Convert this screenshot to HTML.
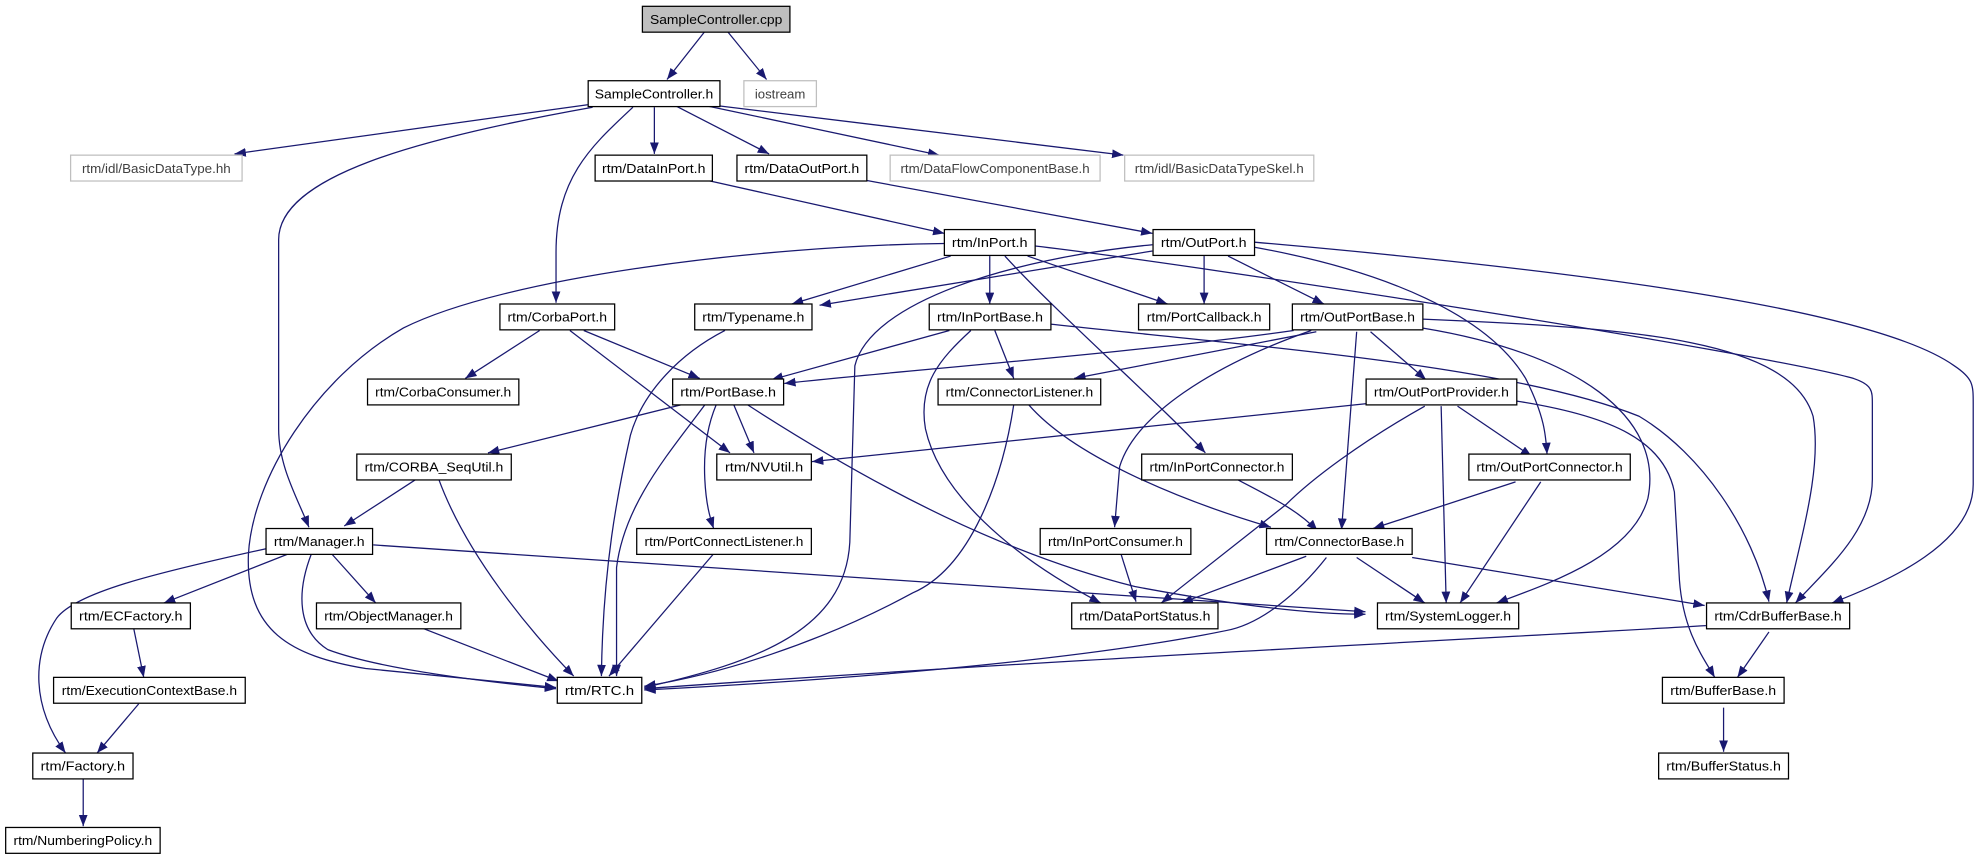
<!DOCTYPE html>
<html><head><meta charset="utf-8"><style>
html,body{margin:0;padding:0;background:#fff;}
svg{display:block;}
text{font-family:"Liberation Sans",sans-serif;font-size:10.5px;}
</style></head><body>
<svg width="1977" height="859" viewBox="0 0 1568 681" preserveAspectRatio="none" xmlns="http://www.w3.org/2000/svg">
<defs>
<marker id="a" markerUnits="userSpaceOnUse" markerWidth="10" markerHeight="8" refX="9" refY="3.5" orient="auto">
<path d="M0,0 L9,3.5 L0,7 z" fill="#191970"/>
</marker>
</defs>
<g fill="none" stroke="#191970" stroke-width="1" marker-end="url(#a)">
<path d="M559,25 L529,63"/>
<path d="M577,25 L608,63"/>
<path d="M466,83 L186,122"/>
<path d="M470,85 C330,110 221,140 221,190 L221,340 C221,370 236,395 245,418"/>
<path d="M502,85 C470,115 441,140 441,200 L441,240"/>
<path d="M519,85 L519,122"/>
<path d="M536,84 L610,122"/>
<path d="M561,84 L745,123"/>
<path d="M571,84 L891,123"/>
<path d="M561,143 L749,185"/>
<path d="M687,143 L914,185"/>
<path d="M749,193 C600,195 400,220 320,260 C250,300 200,380 197,440 C195,500 230,520 290,530 L441,545"/>
<path d="M754,203 L628,241"/>
<path d="M785,203 L785,241"/>
<path d="M815,203 L926,241"/>
<path d="M797,203 C840,250 920,320 956,359"/>
<path d="M821,195 C950,210 1400,280 1470,300 C1485,305 1485,310 1485,320 L1485,380 C1485,420 1450,450 1424,478"/>
<path d="M995,192 C1200,210 1480,240 1550,290 C1565,300 1565,305 1565,320 L1565,384 C1565,430 1500,460 1453,478"/>
<path d="M1128,253 C1300,260 1420,270 1438,330 C1445,370 1430,420 1417,478"/>
<path d="M833,257 C1000,275 1200,290 1300,330 C1350,360 1390,420 1403,477"/>
<path d="M1120,442 L1352,480"/>
<path d="M1203,318 C1280,330 1320,350 1328,390 L1332,460 C1335,500 1350,520 1360,537"/>
<path d="M1403,501 L1378,537"/>
<path d="M1367,561 L1367,596"/>
<path d="M995,196 C1100,215 1180,250 1210,300 C1225,330 1226,345 1227,360"/>
<path d="M974,203 L1050,241"/>
<path d="M914,199 L650,242"/>
<path d="M914,194 C800,205 690,240 678,290 L674,430 C670,500 600,525 511,545"/>
<path d="M955,203 L955,241"/>
<path d="M1026,262 C900,280 700,295 622,304"/>
<path d="M1044,263 L852,300"/>
<path d="M1040,262 C960,290 900,330 888,370 L884,418"/>
<path d="M1087,263 L1131,301"/>
<path d="M1076,263 L1064,420"/>
<path d="M1128,260 C1250,280 1320,330 1307,395 C1295,440 1230,462 1187,478"/>
<path d="M753,262 L612,301"/>
<path d="M789,262 L804,300"/>
<path d="M770,262 C745,285 728,305 734,340 C745,390 800,440 873,478"/>
<path d="M540,321 L387,359"/>
<path d="M582,321 L598,359"/>
<path d="M452,262 L579,359"/>
<path d="M568,321 C560,340 558,360 559,380 C560,400 563,410 566,419"/>
<path d="M559,321 C530,360 495,400 489,450 L489,536"/>
<path d="M593,321 C700,390 800,440 900,465 C980,480 1040,487 1083,487"/>
<path d="M296,432 L1083,485"/>
<path d="M428,262 L369,300"/>
<path d="M463,262 L555,300"/>
<path d="M575,262 C540,280 510,310 500,345 C490,390 478,450 477,536"/>
<path d="M348,380 C370,440 420,500 455,536"/>
<path d="M335,498 L443,540"/>
<path d="M566,439 L483,536"/>
<path d="M247,439 C235,470 236,500 260,515 C300,530 380,540 441,546"/>
<path d="M1353,496 C1200,505 800,525 511,546"/>
<path d="M1052,442 C1030,470 1000,495 972,500 C850,525 650,540 511,547"/>
<path d="M804,321 C795,380 770,450 724,470 C650,510 570,535 511,544"/>
<path d="M816,321 C850,360 930,395 1008,418"/>
<path d="M981,380 C1010,395 1030,405 1045,421"/>
<path d="M1202,382 L1089,419"/>
<path d="M1222,382 L1158,478"/>
<path d="M1156,322 L1215,362"/>
<path d="M1143,322 L1147,478"/>
<path d="M1084,320 L644,366"/>
<path d="M1130,322 C1080,350 1040,380 1020,400 L921,478"/>
<path d="M1036,441 L937,478"/>
<path d="M1076,442 L1130,478"/>
<path d="M889,439 L901,477"/>
<path d="M330,380 L273,417"/>
<path d="M211,435 C120,455 60,470 45,490 C25,520 25,560 52,597"/>
<path d="M229,439 L130,478"/>
<path d="M263,439 L298,478"/>
<path d="M106,498 L114,537"/>
<path d="M110,558 L77,597"/>
<path d="M66,617 L66,655"/>
</g>
<g stroke-width="1">
<!-- nodes -->
<rect x="509.5" y="5" width="117" height="20.5" fill="#bfbfbf" stroke="#000"/><text x="568" y="19" text-anchor="middle" textLength="105" lengthAdjust="spacingAndGlyphs">SampleController.cpp</text>
<rect x="466.5" y="64" width="104.5" height="20.5" fill="#fff" stroke="#000"/><text x="518.7" y="78" text-anchor="middle" textLength="94" lengthAdjust="spacingAndGlyphs">SampleController.h</text>
<rect x="590" y="64" width="57.5" height="20.5" fill="#fff" stroke="#bfbfbf"/><text x="618.7" y="78" text-anchor="middle" textLength="40" lengthAdjust="spacingAndGlyphs">iostream</text>
<rect x="56" y="123" width="136" height="20.5" fill="#fff" stroke="#bfbfbf"/><text x="124" y="137" text-anchor="middle" textLength="118" lengthAdjust="spacingAndGlyphs">rtm/idl/BasicDataType.hh</text>
<rect x="472" y="123" width="93" height="20.5" fill="#fff" stroke="#000"/><text x="518.5" y="137" text-anchor="middle" textLength="82" lengthAdjust="spacingAndGlyphs">rtm/DataInPort.h</text>
<rect x="584.5" y="123" width="103" height="20.5" fill="#fff" stroke="#000"/><text x="636" y="137" text-anchor="middle" textLength="91" lengthAdjust="spacingAndGlyphs">rtm/DataOutPort.h</text>
<rect x="706" y="123" width="166.5" height="20.5" fill="#fff" stroke="#bfbfbf"/><text x="789.2" y="137" text-anchor="middle" textLength="150" lengthAdjust="spacingAndGlyphs">rtm/DataFlowComponentBase.h</text>
<rect x="892" y="123" width="150" height="20.5" fill="#fff" stroke="#bfbfbf"/><text x="967" y="137" text-anchor="middle" textLength="134" lengthAdjust="spacingAndGlyphs">rtm/idl/BasicDataTypeSkel.h</text>
<rect x="749" y="182" width="72" height="20.5" fill="#fff" stroke="#000"/><text x="785" y="196" text-anchor="middle" textLength="60" lengthAdjust="spacingAndGlyphs">rtm/InPort.h</text>
<rect x="914.5" y="182" width="80.5" height="20.5" fill="#fff" stroke="#000"/><text x="954.7" y="196" text-anchor="middle" textLength="68" lengthAdjust="spacingAndGlyphs">rtm/OutPort.h</text>
<rect x="396.5" y="241" width="91" height="20.5" fill="#fff" stroke="#000"/><text x="442" y="255" text-anchor="middle" textLength="79" lengthAdjust="spacingAndGlyphs">rtm/CorbaPort.h</text>
<rect x="551" y="241" width="93" height="20.5" fill="#fff" stroke="#000"/><text x="597.5" y="255" text-anchor="middle" textLength="81" lengthAdjust="spacingAndGlyphs">rtm/Typename.h</text>
<rect x="737" y="241" width="96.5" height="20.5" fill="#fff" stroke="#000"/><text x="785.2" y="255" text-anchor="middle" textLength="84" lengthAdjust="spacingAndGlyphs">rtm/InPortBase.h</text>
<rect x="903" y="241" width="104" height="20.5" fill="#fff" stroke="#000"/><text x="955" y="255" text-anchor="middle" textLength="91" lengthAdjust="spacingAndGlyphs">rtm/PortCallback.h</text>
<rect x="1025" y="241" width="103.5" height="20.5" fill="#fff" stroke="#000"/><text x="1076.7" y="255" text-anchor="middle" textLength="91" lengthAdjust="spacingAndGlyphs">rtm/OutPortBase.h</text>
<rect x="291.5" y="300.5" width="120" height="20.5" fill="#fff" stroke="#000"/><text x="351.5" y="314.5" text-anchor="middle" textLength="108" lengthAdjust="spacingAndGlyphs">rtm/CorbaConsumer.h</text>
<rect x="533.5" y="300.5" width="88" height="20.5" fill="#fff" stroke="#000"/><text x="577.5" y="314.5" text-anchor="middle" textLength="76" lengthAdjust="spacingAndGlyphs">rtm/PortBase.h</text>
<rect x="744" y="300.5" width="129" height="20.5" fill="#fff" stroke="#000"/><text x="808.5" y="314.5" text-anchor="middle" textLength="117" lengthAdjust="spacingAndGlyphs">rtm/ConnectorListener.h</text>
<rect x="1083.5" y="300.5" width="119.5" height="20.5" fill="#fff" stroke="#000"/><text x="1143.2" y="314.5" text-anchor="middle" textLength="107" lengthAdjust="spacingAndGlyphs">rtm/OutPortProvider.h</text>
<rect x="283" y="360" width="122.5" height="20.5" fill="#fff" stroke="#000"/><text x="344.2" y="374" text-anchor="middle" textLength="110" lengthAdjust="spacingAndGlyphs">rtm/CORBA_SeqUtil.h</text>
<rect x="568.5" y="360" width="75" height="20.5" fill="#fff" stroke="#000"/><text x="606" y="374" text-anchor="middle" textLength="62" lengthAdjust="spacingAndGlyphs">rtm/NVUtil.h</text>
<rect x="905.5" y="360" width="119.5" height="20.5" fill="#fff" stroke="#000"/><text x="965.2" y="374" text-anchor="middle" textLength="107" lengthAdjust="spacingAndGlyphs">rtm/InPortConnector.h</text>
<rect x="1165" y="360" width="128" height="20.5" fill="#fff" stroke="#000"/><text x="1229" y="374" text-anchor="middle" textLength="116" lengthAdjust="spacingAndGlyphs">rtm/OutPortConnector.h</text>
<rect x="211" y="419" width="84.5" height="20.5" fill="#fff" stroke="#000"/><text x="253.2" y="433" text-anchor="middle" textLength="72" lengthAdjust="spacingAndGlyphs">rtm/Manager.h</text>
<rect x="505" y="419" width="138.5" height="20.5" fill="#fff" stroke="#000"/><text x="574.2" y="433" text-anchor="middle" textLength="126" lengthAdjust="spacingAndGlyphs">rtm/PortConnectListener.h</text>
<rect x="825" y="419" width="119.5" height="20.5" fill="#fff" stroke="#000"/><text x="884.7" y="433" text-anchor="middle" textLength="107" lengthAdjust="spacingAndGlyphs">rtm/InPortConsumer.h</text>
<rect x="1004.5" y="419" width="115.5" height="20.5" fill="#fff" stroke="#000"/><text x="1062.2" y="433" text-anchor="middle" textLength="103" lengthAdjust="spacingAndGlyphs">rtm/ConnectorBase.h</text>
<rect x="56.5" y="478" width="94.5" height="20.5" fill="#fff" stroke="#000"/><text x="103.7" y="492" text-anchor="middle" textLength="82" lengthAdjust="spacingAndGlyphs">rtm/ECFactory.h</text>
<rect x="251" y="478" width="114.5" height="20.5" fill="#fff" stroke="#000"/><text x="308.2" y="492" text-anchor="middle" textLength="102" lengthAdjust="spacingAndGlyphs">rtm/ObjectManager.h</text>
<rect x="850" y="478" width="116" height="20.5" fill="#fff" stroke="#000"/><text x="908" y="492" text-anchor="middle" textLength="104" lengthAdjust="spacingAndGlyphs">rtm/DataPortStatus.h</text>
<rect x="1092.5" y="478" width="112" height="20.5" fill="#fff" stroke="#000"/><text x="1148.5" y="492" text-anchor="middle" textLength="100" lengthAdjust="spacingAndGlyphs">rtm/SystemLogger.h</text>
<rect x="1353.5" y="478" width="113.5" height="20.5" fill="#fff" stroke="#000"/><text x="1410.2" y="492" text-anchor="middle" textLength="101" lengthAdjust="spacingAndGlyphs">rtm/CdrBufferBase.h</text>
<rect x="42.5" y="537" width="152" height="20.5" fill="#fff" stroke="#000"/><text x="118.5" y="551" text-anchor="middle" textLength="139" lengthAdjust="spacingAndGlyphs">rtm/ExecutionContextBase.h</text>
<rect x="442" y="537" width="67" height="20.5" fill="#fff" stroke="#000"/><text x="475.5" y="551" text-anchor="middle" textLength="55" lengthAdjust="spacingAndGlyphs">rtm/RTC.h</text>
<rect x="1318.5" y="537" width="96.5" height="20.5" fill="#fff" stroke="#000"/><text x="1366.7" y="551" text-anchor="middle" textLength="84" lengthAdjust="spacingAndGlyphs">rtm/BufferBase.h</text>
<rect x="26" y="597" width="79.5" height="20.5" fill="#fff" stroke="#000"/><text x="65.7" y="611" text-anchor="middle" textLength="67" lengthAdjust="spacingAndGlyphs">rtm/Factory.h</text>
<rect x="1315.5" y="597" width="103" height="20.5" fill="#fff" stroke="#000"/><text x="1367" y="611" text-anchor="middle" textLength="91" lengthAdjust="spacingAndGlyphs">rtm/BufferStatus.h</text>
<rect x="4.5" y="656" width="122.5" height="20.5" fill="#fff" stroke="#000"/><text x="65.7" y="670" text-anchor="middle" textLength="110" lengthAdjust="spacingAndGlyphs">rtm/NumberingPolicy.h</text>
</g>
<g fill="#000"></g>
<style>text{fill:#000}</style>
</svg>
<style>
svg rect[stroke="#bfbfbf"] + text{fill:#404040}
</style>
</body></html>
